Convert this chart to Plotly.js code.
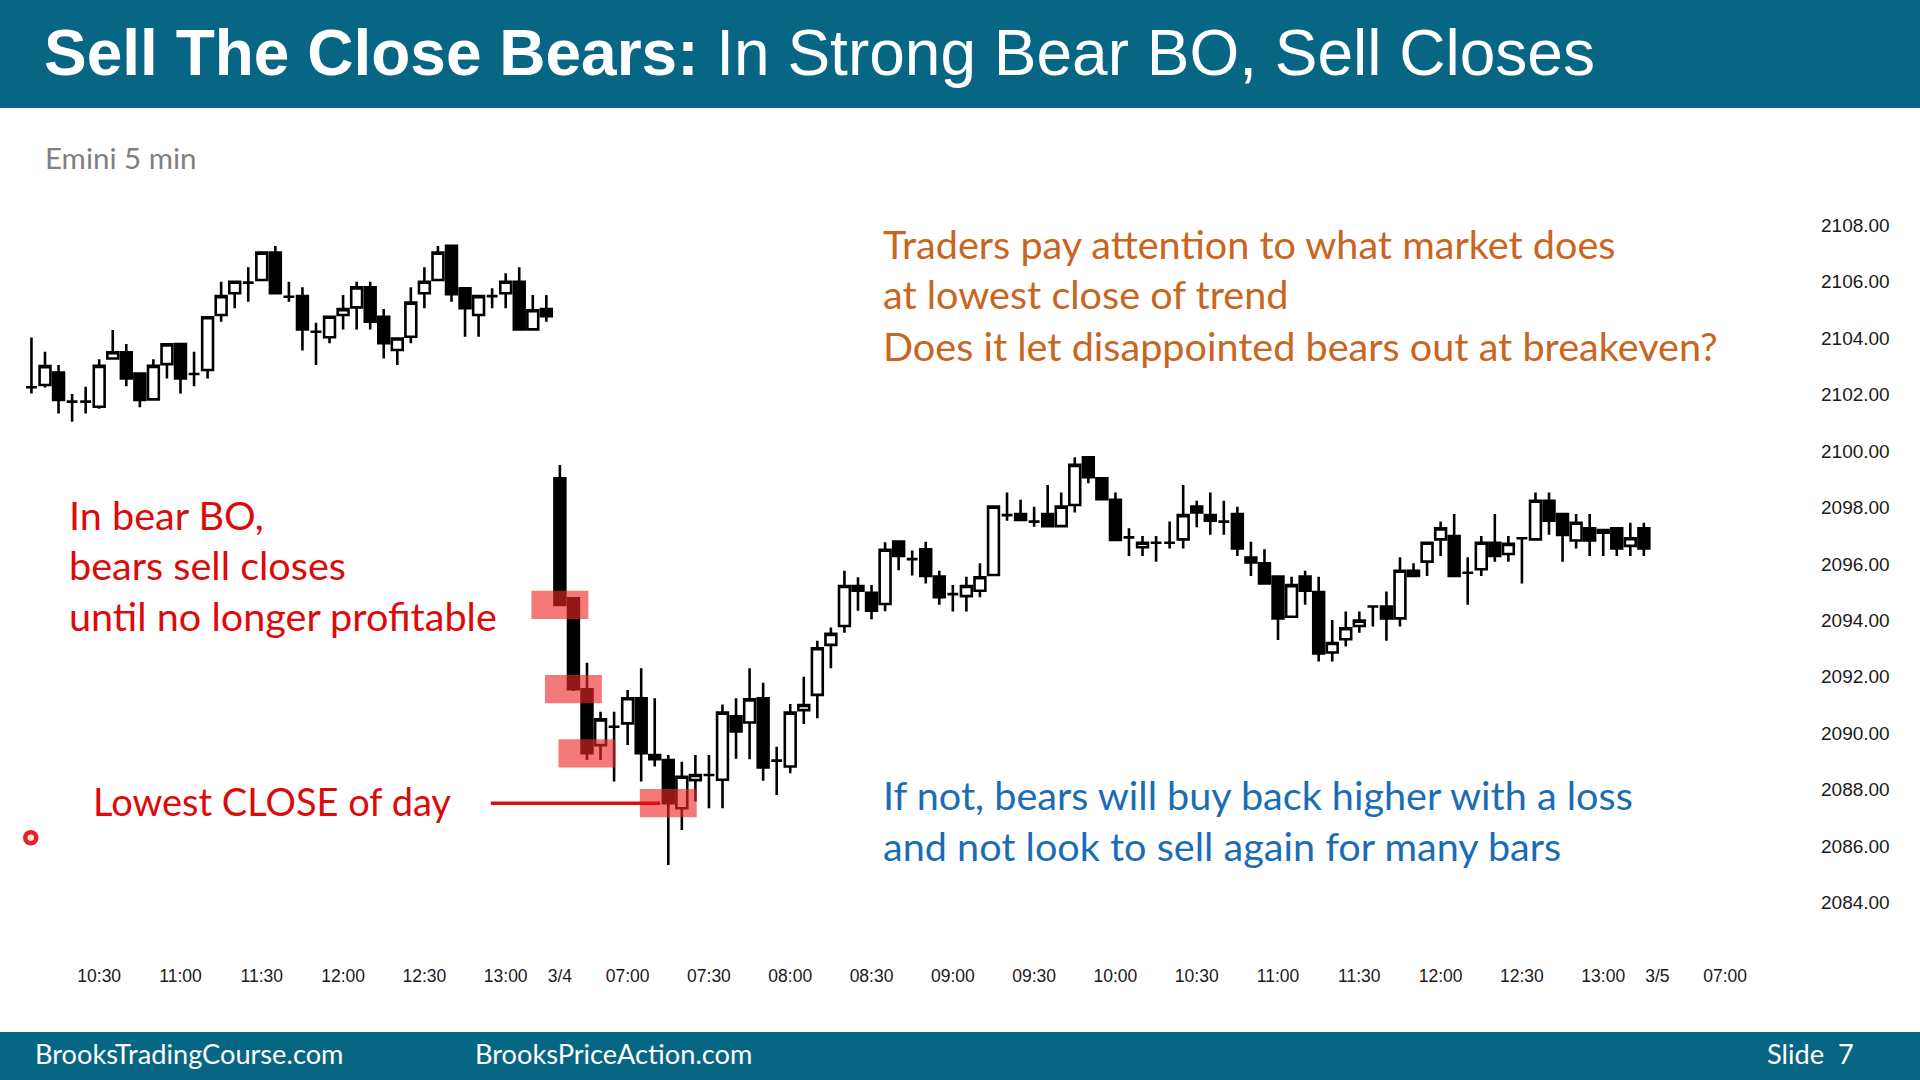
<!DOCTYPE html>
<html><head><meta charset="utf-8">
<script src="https://cdn.plot.ly/plotly-3.0.1.min.js"></script>
<style>html,body{margin:0;padding:0;background:#ffffff;} #chart{width:1920px;height:1080px;}</style>
</head><body><div id="chart"></div>
<script>
// ---- Data (Emini 5 min bars) ----
const opens = [
2102.26,2102.34,2102.78,2101.75,2101.75,2101.57,2103.28,2103.50,2102.75,2101.83,
2103.08,2103.79,2102.73,2102.87,2104.82,2105.59,2105.97,2106.06,2107.03,2105.47,
2105.49,2104.23,2104.03,2104.82,2105.09,2105.80,2104.76,2103.58,2104.05,2105.59,
2106.06,2107.27,2105.77,2104.82,2105.49,2105.59,2106.00,2104.31,2105.03,
2099.03,2094.78,2091.56,2089.58,2090.23,2090.35,2091.24,2089.23,2089.05,2087.34,
2088.34,2088.52,2088.35,2090.60,2090.38,2091.24,2089.03,2088.82,2090.82,2091.36,
2093.13,2093.80,2095.22,2094.98,2094.58,2096.79,2096.17,2096.52,2095.55,2094.93,
2094.86,2095.05,2095.61,2097.73,2097.77,2097.50,2097.77,2097.34,2098.09,2099.78,
2099.03,2098.27,2096.94,2096.59,2096.75,2096.75,2096.87,2098.03,2097.73,2097.50,
2097.77,2096.23,2096.02,2095.55,2094.13,2095.55,2095.00,2092.86,2093.33,2093.80,
2094.49,2094.49,2094.07,2095.76,2096.08,2096.87,2096.99,2095.69,2095.81,2096.75,
2096.35,2096.91,2096.87,2098.24,2097.77,2096.83,2097.26,2097.11,2097.26,2096.64,
2097.26];
const highs = [
2104.02,2103.52,2103.05,2102.02,2102.28,2103.25,2104.29,2103.79,2102.75,2103.25,
2103.80,2103.80,2103.52,2104.75,2106.00,2106.00,2106.51,2107.03,2107.27,2106.00,
2105.80,2104.55,2104.76,2105.53,2106.00,2106.00,2105.03,2104.00,2105.80,2106.51,
2107.27,2107.27,2105.80,2105.50,2105.77,2106.30,2106.51,2105.53,2105.53,
2099.51,2094.80,2092.50,2090.76,2090.76,2091.53,2092.30,2091.24,2089.23,2088.99,
2089.23,2089.23,2091.02,2091.24,2092.30,2091.79,2089.52,2091.04,2092.00,2093.28,
2093.75,2095.76,2095.53,2095.25,2096.77,2096.80,2096.48,2096.79,2095.76,2095.25,
2095.55,2096.02,2098.05,2098.53,2098.27,2098.03,2098.80,2098.53,2099.78,2099.78,
2099.03,2098.53,2097.26,2096.99,2096.99,2097.50,2098.80,2098.24,2098.53,2098.24,
2098.03,2096.79,2096.52,2095.55,2095.55,2095.76,2095.55,2094.01,2094.31,2094.31,
2094.50,2095.02,2096.24,2096.02,2096.75,2097.50,2097.77,2096.24,2096.99,2097.77,
2096.99,2096.92,2098.53,2098.53,2097.78,2097.77,2097.77,2097.20,2097.26,2097.46,
2097.46];
const lows = [
2102.04,2102.25,2101.33,2101.04,2101.33,2101.50,2103.25,2102.30,2101.55,2101.80,
2102.57,2102.04,2102.30,2102.57,2104.58,2105.06,2105.29,2106.05,2105.59,2105.29,
2103.56,2103.05,2103.82,2104.31,2104.31,2104.31,2103.28,2103.05,2103.82,2105.06,
2106.05,2105.29,2104.05,2104.05,2105.06,2105.06,2104.30,2104.31,2104.58,
2094.50,2091.50,2089.05,2089.05,2088.29,2089.58,2088.29,2088.82,2085.33,2086.57,
2087.58,2087.34,2087.34,2089.10,2089.08,2088.32,2087.81,2088.58,2090.33,2090.53,
2092.30,2093.56,2094.34,2094.04,2094.32,2095.78,2095.59,2095.31,2094.55,2094.31,
2094.31,2094.82,2095.60,2097.53,2097.55,2097.32,2097.32,2097.32,2097.82,2098.86,
2098.29,2096.85,2096.28,2096.28,2096.08,2096.55,2096.55,2097.30,2097.03,2097.03,
2096.28,2095.57,2095.30,2093.30,2094.10,2094.55,2092.54,2092.54,2093.07,2093.56,
2093.78,2093.28,2093.78,2095.55,2095.57,2096.28,2095.55,2094.55,2095.57,2096.08,
2096.08,2095.31,2096.87,2097.03,2096.08,2096.55,2096.28,2096.28,2096.28,2096.28,
2096.28];
const closes = [
2102.26,2103.01,2101.81,2101.75,2101.75,2103.02,2103.50,2102.57,2101.81,2103.02,
2103.78,2102.57,2102.73,2104.74,2105.49,2106.00,2105.97,2107.03,2105.59,2105.47,
2104.31,2104.23,2104.76,2105.03,2105.80,2104.58,2103.82,2103.99,2105.26,2106.00,
2107.03,2105.56,2105.06,2105.49,2105.49,2106.00,2104.31,2104.99,2104.78,
2094.55,2091.56,2089.29,2090.49,2090.23,2091.24,2089.29,2089.08,2087.52,2088.46,
2088.52,2088.52,2090.73,2090.06,2091.20,2088.79,2089.03,2090.73,2091.00,2093.01,
2093.52,2095.22,2095.05,2094.34,2096.50,2096.28,2096.17,2095.57,2094.82,2094.93,
2095.22,2095.53,2098.03,2097.73,2097.56,2097.50,2097.34,2098.03,2099.51,2099.07,
2098.29,2096.85,2096.94,2096.75,2096.75,2096.75,2097.73,2097.82,2097.53,2097.50,
2096.55,2096.05,2095.31,2094.07,2095.25,2095.05,2092.83,2093.20,2093.72,2093.99,
2094.49,2094.07,2095.76,2095.57,2096.75,2097.26,2095.57,2095.69,2096.75,2096.28,
2096.71,2096.91,2098.24,2097.53,2097.03,2097.46,2096.83,2097.20,2096.55,2096.91,
2096.55];

const timeTickBars   = [5, 11, 17, 23, 29, 35, 39, 44, 50, 56, 62, 68, 74, 80, 86, 92, 98, 104, 110, 116, 120, 125];
const timeTickLabels = ['10:30','11:00','11:30','12:00','12:30','13:00','3/4','07:00','07:30','08:00','08:30','09:00','09:30','10:00','10:30','11:00','11:30','12:00','12:30','13:00','3/5','07:00'];
const priceTicks = [2084,2086,2088,2090,2092,2094,2096,2098,2100,2102,2104,2106,2108];
const highlightBars = [39, 40, 41, 47];   // bear closes sold in the breakout
const lowestCloseBar = 47;

// ---- Layout geometry ----
const W = 1920, H = 1080, ML = 20, MR = 105, MT = 150, MB = 125;
const PW = W - ML - MR, PH = H - MT - MB;
const px = x => (x - ML) / PW;
const py = y => 1 - (y - MT) / PH;

const barIndex = opens.map((_, i) => i);

const trace = {
  type: 'candlestick',
  x: barIndex, open: opens, high: highs, low: lows, close: closes,
  whiskerwidth: 0,
  increasing: {line: {color: '#000000', width: 2.6}, fillcolor: '#ffffff'},
  decreasing: {line: {color: '#000000', width: 2.6}, fillcolor: '#000000'},
  hoverinfo: 'skip', showlegend: false
};

const TEAL = '#086685';
const CAL = 'Lato, "Open Sans", sans-serif';
const ARIAL = '"Liberation Sans", Arial, sans-serif';

const shapes = [
  {type:'rect', xref:'paper', yref:'paper', x0:px(0), x1:px(W), y0:py(108), y1:py(0), fillcolor:TEAL, line:{width:0}, layer:'below'},
  {type:'rect', xref:'paper', yref:'paper', x0:px(0), x1:px(W), y0:py(H), y1:py(1032), fillcolor:TEAL, line:{width:0}, layer:'below'},
  // cursor dot
  {type:'circle', xref:'paper', yref:'paper', x0:px(23), x1:px(38.5), y0:py(845.5), y1:py(830), fillcolor:'#e8202a', line:{width:0}},
  {type:'circle', xref:'paper', yref:'paper', x0:px(27.5), x1:px(34), y0:py(841), y1:py(834.5), fillcolor:'#ffe4e4', line:{width:0}}
];
highlightBars.forEach(b => {
  shapes.push({type:'rect', xref:'x', yref:'y', x0:b-2.1, x1:b+2.1, y0:closes[b]-0.5, y1:closes[b]+0.5,
    fillcolor:'rgba(238,40,40,0.62)', line:{width:0}, layer:'above'});
});
shapes.push({type:'line', xref:'x', yref:'y', x0:lowestCloseBar-13.1, x1:lowestCloseBar-0.6,
  y0:closes[lowestCloseBar], y1:closes[lowestCloseBar], line:{color:'#e01010', width:3.5}, layer:'above'});

function txt(x, y, text, size, color, family, anchor) {
  return {xref:'paper', yref:'paper', x:px(x), y:py(y), xanchor:anchor || 'left', yanchor:'middle',
    text:text, showarrow:false, font:{family:family || CAL, size:size, color:color}};
}
const ORANGE = '#c8651e', RED = '#dc0a0a', BLUE = '#1a6db4';
const annotations = [
  txt(42, 53, '<b>Sell The Close Bears:</b> In Strong Bear BO, Sell Closes', 64, '#ffffff', ARIAL),
  txt(43, 158, 'Emini 5 min', 29.5, '#808080'),
  txt(881, 243.5, 'Traders pay attention to what market does', 39.6, ORANGE),
  txt(881, 293.5, 'at lowest close of trend', 39.6, ORANGE),
  txt(881, 345.5, 'Does it let disappointed bears out at breakeven?', 39.6, ORANGE),
  txt(67, 514.5, 'In bear BO,', 39.6, RED),
  txt(67, 564.5, 'bears sell closes', 39.6, RED),
  txt(67, 615.5, 'until no longer profitable', 39.6, RED),
  txt(91, 800.5, 'Lowest CLOSE of day', 38, RED),
  txt(881, 794.5, 'If not, bears will buy back higher with a loss', 39.6, BLUE),
  txt(881, 845.5, 'and not look to sell again for many bars', 39.6, BLUE),
  txt(33, 1053, 'BrooksTradingCourse.com', 27.2, '#ffffff'),
  txt(473, 1053, 'BrooksPriceAction.com', 27.2, '#ffffff'),
  txt(1765, 1053, 'Slide&nbsp;&nbsp;7', 27.2, '#ffffff')
];

const layout = {
  width: W, height: H,
  margin: {l: ML, r: MR, t: MT, b: MB, pad: 0},
  paper_bgcolor: '#ffffff', plot_bgcolor: '#ffffff',
  showlegend: false,
  boxgap: 0.2, boxgroupgap: 0,
  xaxis: {
    range: [-0.845, 131.63], tickmode: 'array', tickvals: timeTickBars, ticktext: timeTickLabels,
    showgrid: false, zeroline: false, showline: false, ticks: '', ticklabelstandoff: 8,
    tickfont: {family: ARIAL, size: 17.5, color: '#1a1a1a'},
    rangeslider: {visible: false}, fixedrange: true
  },
  yaxis: {
    side: 'right', range: [2082.142, 2110.668], tickmode: 'array', tickvals: priceTicks,
    ticktext: priceTicks.map(v => v.toFixed(2)),
    showgrid: false, zeroline: false, showline: false, ticks: '', ticklabelstandoff: 5,
    tickfont: {family: ARIAL, size: 19, color: '#1a1a1a'}, fixedrange: true
  },
  shapes: shapes,
  annotations: annotations
};

Plotly.newPlot('chart', [trace], layout, {displayModeBar: false, staticPlot: true});
</script>
</body></html>
